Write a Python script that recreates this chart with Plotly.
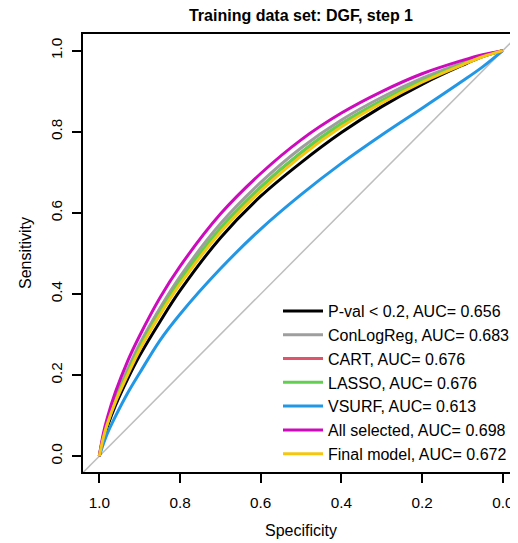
import plotly.graph_objects as go

specificity = [1.0, 0.99, 0.98, 0.96, 0.93, 0.9, 0.85, 0.8, 0.7, 0.6, 0.5, 0.4, 0.3, 0.2, 0.1, 0.05, 0.0]

sens_pval = [0, 0.042, 0.073, 0.125, 0.190, 0.248, 0.331, 0.408, 0.538, 0.641, 0.724, 0.798, 0.862, 0.917, 0.964, 0.985, 1]
sens_conlogreg = [0, 0.050, 0.086, 0.143, 0.214, 0.277, 0.365, 0.443, 0.573, 0.675, 0.760, 0.829, 0.885, 0.932, 0.970, 0.988, 1]
sens_cart = [0, 0.047, 0.081, 0.136, 0.204, 0.267, 0.354, 0.432, 0.561, 0.663, 0.748, 0.819, 0.876, 0.925, 0.966, 0.986, 1]
sens_lasso = [0, 0.047, 0.082, 0.137, 0.205, 0.268, 0.355, 0.433, 0.562, 0.664, 0.749, 0.820, 0.877, 0.926, 0.967, 0.986, 1]
sens_vsurf = [0, 0.030, 0.056, 0.098, 0.155, 0.205, 0.285, 0.350, 0.462, 0.560, 0.645, 0.722, 0.792, 0.858, 0.925, 0.960, 1]
sens_allsel = [0, 0.056, 0.095, 0.158, 0.234, 0.297, 0.390, 0.468, 0.597, 0.697, 0.780, 0.846, 0.899, 0.943, 0.976, 0.990, 1]
sens_final = [0, 0.046, 0.080, 0.134, 0.200, 0.262, 0.348, 0.424, 0.552, 0.654, 0.740, 0.812, 0.871, 0.922, 0.965, 0.985, 1]

labels = ["P-val < 0.2, AUC= 0.656", "ConLogReg, AUC= 0.683", "CART, AUC= 0.676",
          "LASSO, AUC= 0.676", "VSURF, AUC= 0.613", "All selected, AUC= 0.698",
          "Final model, AUC= 0.672"]
colors = ["#000000", "#9E9E9E", "#DF536B", "#61D04F", "#2297E6", "#CD0BBC", "#F5C710"]
series = [sens_pval, sens_conlogreg, sens_cart, sens_lasso, sens_vsurf, sens_allsel, sens_final]

diag_x = [1.04, -0.04]
diag_y = [-0.04, 1.04]

tick_vals = [0.0, 0.2, 0.4, 0.6, 0.8, 1.0]
tick_text = ["0.0", "0.2", "0.4", "0.6", "0.8", "1.0"]

FONT = "Liberation Sans, Arial, sans-serif"
OFF = 8  # page body margin
W, H = 518 - OFF, 543 - OFF
L, R, T, B = 83 - OFF, 0, 34 - OFF, 71

fig = go.Figure()
fig.add_trace(go.Scatter(x=diag_x, y=diag_y, mode="lines",
                         line=dict(color="#BEBEBE", width=1.5), showlegend=False,
                         hoverinfo="skip"))
for lab, col, s in zip(labels, colors, series):
    fig.add_trace(go.Scatter(x=specificity, y=s, mode="lines", name=lab,
                             line=dict(color=col, width=3, shape="spline", smoothing=1.0)))

plot_h = H - T - B
plot_w = W - L - R


def px_x(xw):
    return (xw - OFF - L) / plot_w


def px_y(yw):
    return (H - B - (yw - OFF)) / plot_h


fig.update_layout(
    width=W, height=H,
    margin=dict(l=L, r=R, t=T, b=B, autoexpand=False),
    paper_bgcolor="white", plot_bgcolor="white",
    font=dict(family=FONT, size=15.3, color="#000000"),
    title=dict(text="<b>Training data set: DGF, step 1</b>", x=(301 - OFF) / W, xanchor="center",
               y=1 - (15 - OFF) / H, yanchor="middle", font=dict(size=16, family=FONT)),
    legend=dict(x=px_x(278), xanchor="left", y=px_y(294), yanchor="top",
                bgcolor="rgba(0,0,0,0)", borderwidth=0, itemwidth=40,
                font=dict(size=16, family=FONT), traceorder="normal"),
    showlegend=True,
    annotations=[
        dict(text="Specificity", xref="paper", yref="paper",
             x=px_x(301), y=px_y(530),
             xanchor="center", yanchor="middle", showarrow=False,
             font=dict(size=16, family=FONT)),
        dict(text="Sensitivity", xref="paper", yref="paper",
             x=px_x(25), y=0.5, textangle=-90,
             xanchor="center", yanchor="middle", showarrow=False,
             font=dict(size=16, family=FONT)),
    ],
)
fig.update_xaxes(range=[1.0404, -0.0377], showgrid=False, zeroline=False, automargin=False,
                 showline=True, linecolor="#000000", linewidth=1.5, mirror=True,
                 ticks="outside", ticklen=9, tickwidth=1.5, tickcolor="#000000",
                 tickvals=tick_vals, ticktext=tick_text, ticklabelstandoff=7)
fig.update_yaxes(range=[-0.039, 1.041], showgrid=False, zeroline=False, automargin=False,
                 showline=True, linecolor="#000000", linewidth=1.5, mirror=False,
                 ticks="outside", ticklen=9, tickwidth=1.5, tickcolor="#000000",
                 tickvals=tick_vals, ticktext=tick_text, tickangle=-90, ticklabelstandoff=4)

fig.write_html("out.html")
